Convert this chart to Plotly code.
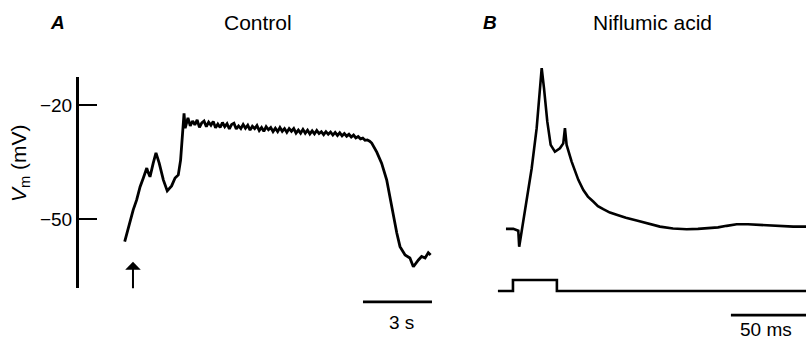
import plotly.graph_objects as go

# ---------------- data ----------------
# Panel A: control (time in s, membrane potential in mV)
a_t = [0.00, 0.23, 0.37, 0.52, 0.67, 0.81, 0.96, 1.01, 1.10, 1.24, 1.36, 1.50, 1.68, 1.85,
       2.04, 2.19, 2.33, 2.43, 2.52, 2.58, 2.63, 2.71,
       2.75, 2.85, 2.95, 3.05, 3.15, 3.25, 3.35, 3.45, 3.55, 3.65, 3.75, 3.85, 3.95, 4.05,
       4.15, 4.25, 4.35, 4.45, 4.55, 4.65, 4.75, 4.85, 4.95, 5.05, 5.15, 5.25, 5.35, 5.45,
       5.55, 5.65, 5.75, 5.85, 5.95, 6.05, 6.15, 6.25, 6.35, 6.45, 6.55, 6.65, 6.75, 6.85,
       6.95, 7.05, 7.15, 7.25, 7.35, 7.45, 7.55, 7.65, 7.75, 7.85, 7.95, 8.05, 8.15, 8.25,
       8.35, 8.45, 8.55, 8.65, 8.75, 8.85, 8.95, 9.05, 9.15, 9.25, 9.35, 9.45, 9.55, 9.65,
       9.75, 9.85, 9.95, 10.05, 10.15, 10.25, 10.35, 10.45, 10.55, 10.65,
       10.74, 10.96, 11.17, 11.39, 11.53, 11.68, 11.83, 11.97, 12.19, 12.40, 12.55, 12.77,
       12.91, 13.06, 13.20, 13.30]
a_v = [-56.0, -50.3, -47.6, -45.0, -41.5, -39.2, -36.6, -37.6, -38.9, -35.3, -32.6, -35.3, -39.7, -42.6,
       -41.3, -39.2, -38.4, -34.5, -27.4, -22.2, -26.1, -23.9,
       -23.4, -25.5, -24.2, -25.2, -23.9, -25.9, -24.7, -24.2, -25.7, -24.5, -25.3, -24.3, -26.0, -25.0,
       -25.9, -24.6, -25.7, -24.9, -26.3, -25.1, -24.8, -26.3, -25.5, -26.2, -25.1, -26.1, -25.3, -26.6,
       -25.6, -26.2, -25.4, -26.7, -25.9, -26.9, -25.7, -26.5, -25.9, -27.0, -26.1, -27.0, -25.9, -26.9,
       -26.2, -27.2, -26.2, -26.9, -26.2, -27.4, -26.6, -27.4, -26.4, -27.4, -26.6, -27.6, -26.8, -27.6,
       -26.7, -27.5, -27.0, -27.8, -27.0, -27.7, -27.1, -27.9, -27.2, -28.0, -27.3, -28.1, -27.5, -28.2,
       -27.7, -28.4, -27.9, -28.65, -28.3, -28.9, -28.7, -29.3, -29.2, -29.5,
       -30.0, -32.4, -35.3, -39.7, -44.1, -49.4, -53.7, -57.3, -59.5, -60.3, -62.6, -60.8,
       -59.9, -60.3, -58.9, -59.5]

# Panel B: niflumic acid (time in ms, membrane potential in mV)
b_t = [-4.6, 0.2, 3.5, 4.1, 5.7, 9.0, 12.3, 15.6, 17.8, 18.9, 20.4, 22.6, 24.8, 27.6, 30.9,
       33.1, 34.2, 35.3, 38.6, 40.8, 43.0, 46.3, 49.3, 52.8, 55.9, 59.4, 63.8, 68.2, 74.3,
       81.4, 88.8, 96.7, 105.3, 114.3, 121.7, 129.6, 134.9, 140.6, 147.2, 154.6, 162.5,
       173.0, 184.4, 192.8]
b_v = [-52.6, -52.6, -53.1, -57.3, -53.3, -45.4, -36.7, -26.1, -15.6, -10.3, -15.5, -24.4, -30.5,
       -32.3, -31.4, -30.1, -26.1, -30.5, -34.9, -37.4, -39.7, -42.4, -44.1, -45.4, -46.6,
       -47.4, -48.3, -48.9, -49.7, -50.4, -51.2, -52.0, -52.5, -52.7, -52.6, -52.4, -52.2,
       -51.8, -51.4, -51.4, -51.6, -51.8, -52.0, -52.0]

# Stimulus marker (time in ms, on/off)
stim_t = [-9.9, 0.0, 0.0, 28.9, 28.9, 192.8]
stim_v = [0, 0, 1, 1, 0, 0]

y_ticks = [-20, -50]
y_tick_labels = ["\u221220", "\u221250"]
scale_a = 3      # s
scale_b = 50     # ms
arrow_t = 0.36   # s, stimulus arrow position

# ---------------- figure ----------------
W, H = 806, 339
FONT = "Liberation Sans, Arial, Helvetica, sans-serif"
LW = 2.6

fig = go.Figure()
fig.add_trace(go.Scatter(x=a_t, y=a_v, mode="lines", xaxis="x", yaxis="y",
                         line=dict(color="black", width=2.8), hoverinfo="skip"))
fig.add_trace(go.Scatter(x=b_t, y=b_v, mode="lines", xaxis="x2", yaxis="y2",
                         line=dict(color="black", width=LW), hoverinfo="skip"))
fig.add_trace(go.Scatter(x=stim_t, y=stim_v, mode="lines", xaxis="x2", yaxis="y3",
                         line=dict(color="black", width=LW), hoverinfo="skip"))

hidden = dict(visible=False, showgrid=False, zeroline=False, fixedrange=True)

fig.update_layout(
    width=W, height=H,
    margin=dict(l=0, r=0, t=0, b=0),
    paper_bgcolor="white", plot_bgcolor="rgba(0,0,0,0)",
    showlegend=False,
    font=dict(family=FONT, color="black"),
    # panel A
    xaxis=dict(domain=[0, 1], range=[-5.422, 29.622], anchor="y", **hidden),
    yaxis=dict(domain=[0.1504, 0.7729], range=[-68.2, -12.6], anchor="free",
               position=77 / W, side="left", showline=True, linewidth=3, linecolor="black",
               ticks="inside", ticklen=18, tickwidth=2.2, tickcolor="black",
               tickvals=y_ticks, ticktext=y_tick_labels,
               tickfont=dict(size=19, family=FONT, color="black"),
               showgrid=False, zeroline=False, fixedrange=True),
    # panel B
    xaxis2=dict(domain=[0, 1], range=[-337.5, 192.8], anchor="y2", **hidden),
    yaxis2=dict(domain=[0, 1], range=[-81.58, 7.63], anchor="x2", **hidden),
    yaxis3=dict(range=[-4.36, 26.45], overlaying="y2", anchor="x2", **hidden),
)

# scale bars
fig.add_shape(type="line", xref="x", yref="y2", x0=10.36, x1=10.36 + scale_a,
              y0=-71.8, y1=-71.8, line=dict(color="black", width=LW))
fig.add_shape(type="line", xref="x2", yref="y2", x0=143.4, x1=143.4 + scale_b,
              y0=-75.3, y1=-75.3, line=dict(color="black", width=LW))

# stimulus arrow
fig.add_annotation(x=arrow_t, y=-61.3, xref="x", yref="y", text="", showarrow=True,
                   arrowhead=1, arrowsize=1.3, arrowwidth=2, arrowcolor="black", ax=0, ay=28)

def txt(x, y, s, size, **kw):
    fig.add_annotation(x=x / W, y=1 - y / H, xref="paper", yref="paper", text=s,
                       showarrow=False, font=dict(size=size, family=FONT, color="black"),
                       xanchor="center", yanchor="middle", **kw)

txt(57, 22, "<b><i>A</i></b>", 19)
txt(258, 22, "Control", 21)
txt(490, 22, "<b><i>B</i></b>", 19)
txt(652, 22, "Niflumic acid", 21)
txt(20, 163, "<i>V</i><sub>m</sub> (mV)", 21, textangle=-90)
txt(401, 322, f"{scale_a} s", 19)
txt(766, 329, f"{scale_b} ms", 19)

fig.write_html("out.html")
